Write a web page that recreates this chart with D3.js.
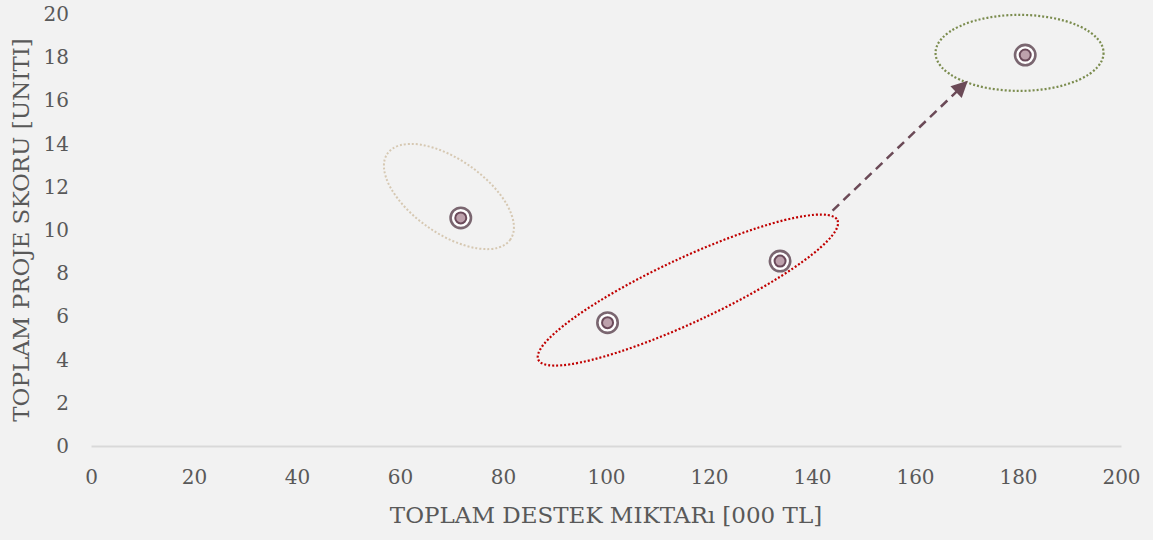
<!DOCTYPE html>
<html>
<head>
<meta charset="utf-8">
<script src="https://cdn.jsdelivr.net/npm/d3@7"></script>
<style>
  body { margin: 0; background: #f2f2f2; }
  svg { display: block; }
  text { font-family: "DejaVu Serif", serif; fill: #595959; }
</style>
</head>
<body>
<div id="chart"></div>
<script>
var width = 1153,
    height = 540;

// data
var destek = [71.8, 100.3, 133.8, 181.4];
var skor = [10.56, 5.71, 8.56, 18.1];
var xTicks = [0, 20, 40, 60, 80, 100, 120, 140, 160, 180, 200];
var yTicks = [0, 2, 4, 6, 8, 10, 12, 14, 16, 18, 20];

// annotation shapes (centre in data units, radii in px)
var ellipses = [
    {cx: 69.5, cy: 11.55, rx: 75, ry: 37, angle: 35, color: "#d6c8b2", w: 2},
    {cx: 115.9, cy: 7.22, rx: 165, ry: 32, angle: -25, color: "#c00000", w: 2.2},
    {cx: 180.3, cy: 18.2, rx: 84, ry: 38, angle: 0, color: "#7b8c4e", w: 2.2}
];
var arrow = {x1: 144, y1: 10.9, x2: 169.8, y2: 16.8};

var margin = {top: 14, right: 32, bottom: 94, left: 91};

var svg = d3.select("#chart")
    .append("svg")
    .attr("width", width)
    .attr("height", height);

svg.append("rect")
    .attr("width", width)
    .attr("height", height)
    .style("fill", "#f2f2f2");

var x = d3.scaleLinear().domain([0, 200]).range([margin.left, width - margin.right]);
var y = d3.scaleLinear().domain([0, 20]).range([height - margin.bottom, margin.top]);

svg.append("defs").append("marker")
    .attr("id", "head")
    .attr("viewBox", "0 0 10 10")
    .attr("refX", 8)
    .attr("refY", 5)
    .attr("markerWidth", 7)
    .attr("markerHeight", 6.5)
    .attr("markerUnits", "strokeWidth")
    .attr("orient", "auto")
  .append("path")
    .attr("d", "M0,0 L10,5 L0,10 Z")
    .style("fill", "#6b4a57");

// x axis
var xAxis = svg.append("g")
    .attr("transform", "translate(0," + y(0) + ")")
    .call(d3.axisBottom(x).tickValues(xTicks).tickSize(0).tickPadding(24));
xAxis.select(".domain").style("stroke", "#d9d9d9").style("stroke-width", 2);
xAxis.selectAll("text").style("font-size", "20px").style("fill", "#595959")
    .style("font-family", "DejaVu Serif");

// y axis (labels only)
var yAxis = svg.append("g")
    .attr("transform", "translate(" + (margin.left - 22) + ",0)")
    .call(d3.axisLeft(y).tickValues(yTicks).tickSize(0).tickPadding(0));
yAxis.select(".domain").remove();
yAxis.selectAll("text").style("font-size", "20px").style("fill", "#595959")
    .style("font-family", "DejaVu Serif");

// titles
svg.append("text")
    .attr("x", (x(0) + x(200)) / 2)
    .attr("y", 523)
    .attr("text-anchor", "middle")
    .style("font-size", "23px")
    .text("TOPLAM DESTEK MIKTARı [000 TL]");

svg.append("text")
    .attr("transform", "translate(29," + ((y(0) + y(20)) / 2) + ") rotate(-90)")
    .attr("text-anchor", "middle")
    .style("font-size", "23px")
    .text("TOPLAM PROJE SKORU [UNITI]");

// ellipses
svg.append("g").selectAll("ellipse")
    .data(ellipses)
    .enter().append("ellipse")
    .attr("transform", function(d) { return "translate(" + x(d.cx) + "," + y(d.cy) + ") rotate(" + d.angle + ")"; })
    .attr("rx", function(d) { return d.rx; })
    .attr("ry", function(d) { return d.ry; })
    .style("fill", "none")
    .style("stroke", function(d) { return d.color; })
    .style("stroke-width", function(d) { return d.w; })
    .style("stroke-dasharray", "2,2");

// arrow
svg.append("line")
    .attr("x1", x(arrow.x1))
    .attr("y1", y(arrow.y1))
    .attr("x2", x(arrow.x2))
    .attr("y2", y(arrow.y2))
    .style("stroke", "#6b4a57")
    .style("stroke-width", 2.5)
    .style("stroke-dasharray", "9,6")
    .attr("marker-end", "url(#head)");

// points
var pts = destek.map(function(d, i) { return {x: d, y: skor[i]}; });
var pt = svg.append("g").selectAll("g")
    .data(pts)
    .enter().append("g")
    .attr("transform", function(d) { return "translate(" + x(d.x) + "," + y(d.y) + ")"; });
pt.append("circle")
    .attr("r", 10.2)
    .style("fill", "#ffffff")
    .style("stroke", "#7a6670")
    .style("stroke-width", 2.6);
pt.append("circle")
    .attr("r", 5.5)
    .style("fill", "#bda1ac")
    .style("stroke", "#6b4a5a")
    .style("stroke-width", 2);
</script>
</body>
</html>
